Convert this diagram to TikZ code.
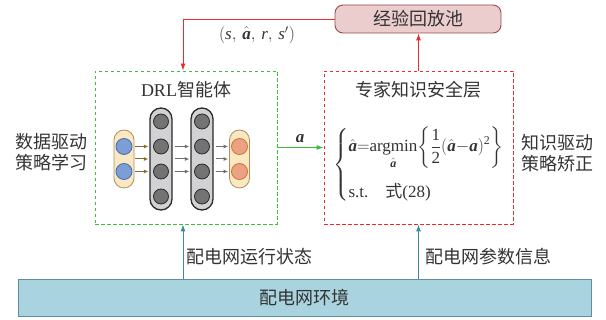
\documentclass[tikz,border=0pt]{standalone}
\usepackage{amsmath}
\usepackage{fontspec}
\setmainfont{Liberation Serif}
\newfontfamily\cjk{Noto Sans CJK SC}
\usetikzlibrary{arrows.meta,calc}

% Times-like letters inside formulas
\newcommand{\vba}{\text{\bfseries\itshape a}}
\newcommand{\vit}[1]{\text{\itshape #1}}
\newcommand{\vrm}[1]{\text{#1}}

\definecolor{txt}{HTML}{333333}
\definecolor{redline}{HTML}{EE2A2A}
\definecolor{grn}{HTML}{3DBE3D}
\definecolor{poolfill}{HTML}{EBCDCE}
\definecolor{pooldraw}{HTML}{9C4A4A}
\definecolor{tealarr}{HTML}{3E8A9A}
\definecolor{envfill}{HTML}{A9D4DF}
\definecolor{envdraw}{HTML}{5F8E9C}
\definecolor{inpfill}{HTML}{FAE8C2}
\definecolor{inpdraw}{HTML}{B0905A}
\definecolor{hidfill}{HTML}{D2D2D4}
\definecolor{hiddraw}{HTML}{2A2A2A}
\definecolor{hidnode}{HTML}{737373}
\definecolor{bluenode}{HTML}{7C9ED6}
\definecolor{bluedraw}{HTML}{4A6AAA}
\definecolor{orgnode}{HTML}{EBA282}
\definecolor{orgdraw}{HTML}{D0703A}
\definecolor{brownarr}{HTML}{8B6A30}
\definecolor{grayarr}{HTML}{707070}

\tikzset{
  cn/.style={font=\cjk\fontsize{18}{21}\selectfont, text=txt, inner sep=0pt},
  dashbox/.style={draw, dash pattern=on 3.5pt off 2.5pt, line width=0.9pt, rectangle, inner sep=0pt},
  pillbox/.style={rectangle, inner sep=0pt, line width=0.8pt},
  neuron/.style={circle, inner sep=0pt, line width=0.8pt},
  netarrow/.style={line width=1pt, -{Latex[length=4.5pt,width=4pt]}},
  mainarrow/.style={line width=0.9pt, -{Latex[length=7pt,width=5pt]}},
}

\begin{document}
\begin{tikzpicture}[x=1pt,y=-1pt]
\useasboundingbox (0,0) rectangle (606,320);

% main blocks
\node[dashbox, draw=grn, minimum width=182pt, minimum height=153pt] (drl) at (186,147.5) {};
\node[dashbox, draw=redline, minimum width=189pt, minimum height=153pt] (safe) at (418.5,147.5) {};
\node[rectangle, rounded corners=8pt, fill=poolfill, draw=pooldraw, line width=0.9pt,
      minimum width=166pt, minimum height=28pt, inner sep=0pt] (pool) at (418,19) {};
\node[cn] (pooltxt) at (pool.center) {经验回放池};
\node[rectangle, fill=envfill, draw=envdraw, line width=0.9pt,
      minimum width=573pt, minimum height=37pt, inner sep=0pt] (env) at (304.5,297.5) {};
\node[cn] (envtxt) at (env.center) {配电网环境};

% titles
\node[font=\rmfamily\fontsize{18}{21}\selectfont, text=txt, inner sep=0pt] (drltitle) at (186,90) {DRL{\cjk 智能体}};
\node[cn] (safetitle) at (418,90) {专家知识安全层};

% side labels
\node[cn, align=center] (leftlab) at (52,152) {数据驱动\\策略学习};
\node[cn, align=center] (rightlab) at (557,153) {知识驱动\\策略矫正};

% neural network
\node[pillbox, fill=inpfill, draw=inpdraw, minimum width=20pt, minimum height=58pt, rounded corners=10pt] (inl) at (124,159) {};
\node[pillbox, fill=hidfill, draw=hiddraw, line width=1.3pt, minimum width=22pt, minimum height=102pt, rounded corners=11pt] (h1l) at (161,159) {};
\node[pillbox, fill=hidfill, draw=hiddraw, line width=1.3pt, minimum width=22pt, minimum height=102pt, rounded corners=11pt] (h2l) at (202,159) {};
\node[pillbox, fill=inpfill, draw=inpdraw, minimum width=20pt, minimum height=58pt, rounded corners=10pt] (outl) at (239.5,159) {};

\foreach \yy [count=\k] in {146.5,171.5} {
  \node[neuron, fill=bluenode, draw=bluedraw, minimum size=16pt] (in\k) at (124,\yy) {};
  \node[neuron, fill=orgnode, draw=orgdraw, minimum size=16pt] (out\k) at (239.5,\yy) {};
}
\foreach \yy [count=\k] in {121.5,146.5,171.5,196.5} {
  \node[neuron, fill=hidnode, draw=hiddraw, minimum size=15pt] (ha\k) at (161,\yy) {};
  \node[neuron, fill=hidnode, draw=hiddraw, minimum size=15pt] (hb\k) at (202,\yy) {};
}
\foreach \dy in {-12.5,0,12.5} {
  \draw[netarrow, brownarr] ($(inl.east)+(1,\dy)$) -- ($(h1l.west)+(-1,\dy)$);
  \draw[netarrow, grayarr] ($(h1l.east)+(2,\dy)$) -- ($(h2l.west)+(-1,\dy)$);
  \draw[netarrow, grayarr] ($(h2l.east)+(2,\dy)$) -- ($(outl.west)+(-1,\dy)$);
}

% expert safety layer formula
\node[anchor=west, font=\fontsize{17}{20}\selectfont, text=txt, inner sep=0pt] (eq) at (333,165)
  {$\left\{\begin{array}{@{}l@{}}
    \displaystyle \hat{\vba}{=}\!\mathop{\vrm{argmin}}\limits_{\hat{\vba}}\!\left\{\frac{\vrm{1}}{\vrm{2}}(\hat{\vba}{-}\vba)^{\vrm{2}}\right\}\\[25pt]
    \text{s.t.\quad{\cjk 式}(28)}
  \end{array}\right.$};

% connectors
\coordinate (drltop) at ($(drl.north)+(-3,0)$);
\coordinate (drlbot) at ($(drl.south)+(-3,0)$);
\draw[mainarrow, redline] (pool.west) -| (drltop);
\draw[mainarrow, redline] (safe.north) -- (safe.north |- pool.south);
\node[font=\fontsize{17}{20}\selectfont, text=txt, inner sep=0pt] (tuple) at (257,35)
  {$(\vit{s},\,\hat{\vba},\,\vit{r},\,\vit{s}')$};

\draw[mainarrow, grn] (drl.east) -- (safe.west);
\node[font=\fontsize{17}{20}\selectfont, text=txt, inner sep=0pt] (alab) at (300,139) {$\vba$};

\draw[mainarrow, tealarr] (drlbot |- env.north) -- (drlbot);
\draw[mainarrow, tealarr] (safe.south |- env.north) -- (safe.south);
\node[cn, anchor=west] (statelab) at (186,257) {配电网运行状态};
\node[cn, anchor=west] (paramlab) at (425,257) {配电网参数信息};
\end{tikzpicture}
\end{document}
